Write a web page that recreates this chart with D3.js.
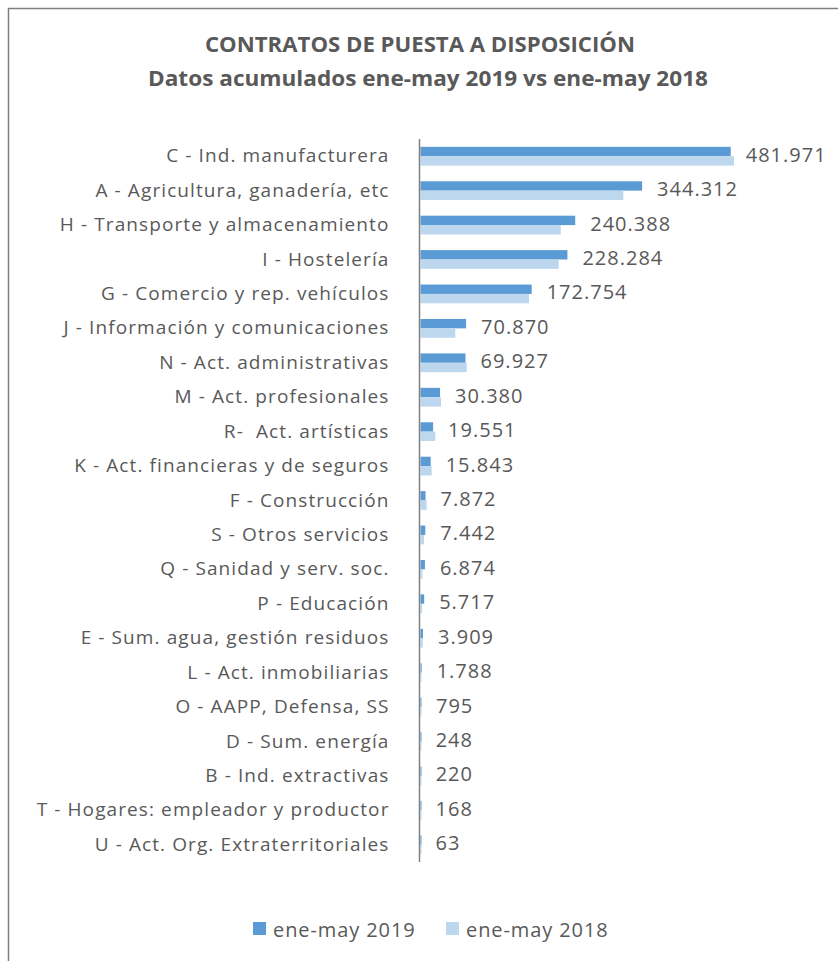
<!DOCTYPE html>
<html>
<head>
<meta charset="utf-8">
<script src="https://cdn.jsdelivr.net/npm/d3@7"></script>
<style>
  body { margin: 0; background: #fff; }
  text { font-family: "Open Sans", "Noto Sans", sans-serif; fill: #595959; }
</style>
</head>
<body>
<div id="chart"></div>
<script>
var width = 838, height = 961;

var categories = [
  "C - Ind. manufacturera",
  "A - Agricultura, ganadería, etc",
  "H - Transporte y almacenamiento",
  "I - Hostelería",
  "G - Comercio y rep. vehículos",
  "J - Información y comunicaciones",
  "N - Act. administrativas",
  "M - Act. profesionales",
  "R-  Act. artísticas",
  "K - Act. financieras y de seguros",
  "F - Construcción",
  "S - Otros servicios",
  "Q - Sanidad y serv. soc.",
  "P - Educación",
  "E - Sum. agua, gestión residuos",
  "L - Act. inmobiliarias",
  "O - AAPP, Defensa, SS",
  "D - Sum. energía",
  "B - Ind. extractivas",
  "T - Hogares: empleador y productor",
  "U - Act. Org. Extraterritoriales"
];
var values2019 = [481971, 344312, 240388, 228284, 172754, 70870, 69927, 30380, 19551, 15843,
                  7872, 7442, 6874, 5717, 3909, 1788, 795, 248, 220, 168, 63];
// 2018 (no labels in the picture)
var values2018 = [487100, 315100, 217800, 214700, 168600, 54100, 71800, 31900, 23000, 17400,
                  9500, 5500, 3000, 2500, 3500, 1500, 700, 300, 250, 150, 60];
var seriesNames = ["ene-may 2019", "ene-may 2018"];
var colors = ["#5B9BD5", "#BDD7EE"];

var fmt = d3.formatLocale({decimal: ",", thousands: ".", grouping: [3]}).format(",d");

var svg = d3.select("#chart").append("svg")
    .attr("width", width)
    .attr("height", height);

// chart frame (right and bottom edges fall outside the picture)
svg.append("rect")
    .attr("x", 8.5).attr("y", 8.5)
    .attr("width", 900).attr("height", 1000)
    .attr("fill", "none")
    .attr("stroke", "#7f7f7f")
    .attr("stroke-width", 1.5);

svg.append("text")
    .attr("x", 420).attr("y", 52)
    .attr("text-anchor", "middle")
    .attr("font-size", 21).attr("font-weight", "bold")
    .attr("textLength", 430).attr("lengthAdjust", "spacingAndGlyphs")
    .text("CONTRATOS DE PUESTA A DISPOSICIÓN");

svg.append("text")
    .attr("x", 428).attr("y", 86)
    .attr("text-anchor", "middle")
    .attr("font-size", 21).attr("font-weight", "bold")
    .attr("textLength", 560).attr("lengthAdjust", "spacingAndGlyphs")
    .text("Datos acumulados ene-may 2019 vs ene-may 2018");

var x = d3.scaleLinear().domain([0, 600000]).range([420.5, 806.7]);
var y = d3.scaleBand().domain(categories).range([139, 862])
    .paddingInner(0.455).paddingOuter(0.2275);
var ySub = d3.scaleBand().domain([0, 1]).range([0, y.bandwidth()]);

var rows = categories.map(function(c, i) {
  return {cat: c, v: [values2019[i], values2018[i]]};
});

var g = svg.append("g");

var row = g.selectAll(".row").data(rows).enter().append("g")
    .attr("class", "row")
    .attr("transform", function(d) { return "translate(0," + y(d.cat) + ")"; });

row.selectAll("rect").data(function(d) { return d.v; }).enter().append("rect")
    .attr("x", x(0))
    .attr("y", function(d, i) { return ySub(i); })
    .attr("width", function(d) { return Math.max(1, x(d) - x(0)); })
    .attr("height", ySub.bandwidth())
    .attr("fill", function(d, i) { return colors[i]; });

// value labels (2019)
row.append("text")
    .attr("x", function(d) { return x(d.v[0]) + 15; })
    .attr("y", y.bandwidth() / 2 - 2)
    .attr("dominant-baseline", "central")
    .attr("font-size", 20)
    .attr("letter-spacing", 1)
    .text(function(d) { return fmt(d.v[0]); });

// category axis
var yAxis = d3.axisLeft(y).tickSize(0).tickPadding(30);
var ax = svg.append("g").attr("transform", "translate(419.5,0)").call(yAxis);
ax.select(".domain").attr("stroke", "#7f7f7f").attr("stroke-width", 1.5)
    .attr("d", "M0,139V862");
ax.selectAll("text")
    .attr("font-size", 19)
    .attr("letter-spacing", 1.1)
    .attr("font-family", "'Open Sans', 'Noto Sans', sans-serif")
    .attr("fill", "#595959")
    .style("white-space", "pre");

// legend
var legendX = [253, 446];
var lg = svg.selectAll(".legend").data(seriesNames).enter().append("g")
    .attr("class", "legend")
    .attr("transform", function(d, i) { return "translate(" + legendX[i] + ",922)"; });
lg.append("rect").attr("width", 13).attr("height", 13)
    .attr("fill", function(d, i) { return colors[i]; });
lg.append("text").attr("x", 20).attr("y", 7)
    .attr("dominant-baseline", "central")
    .attr("font-size", 20)
    .attr("letter-spacing", 0.9)
    .text(function(d) { return d; });
</script>
</body>
</html>
